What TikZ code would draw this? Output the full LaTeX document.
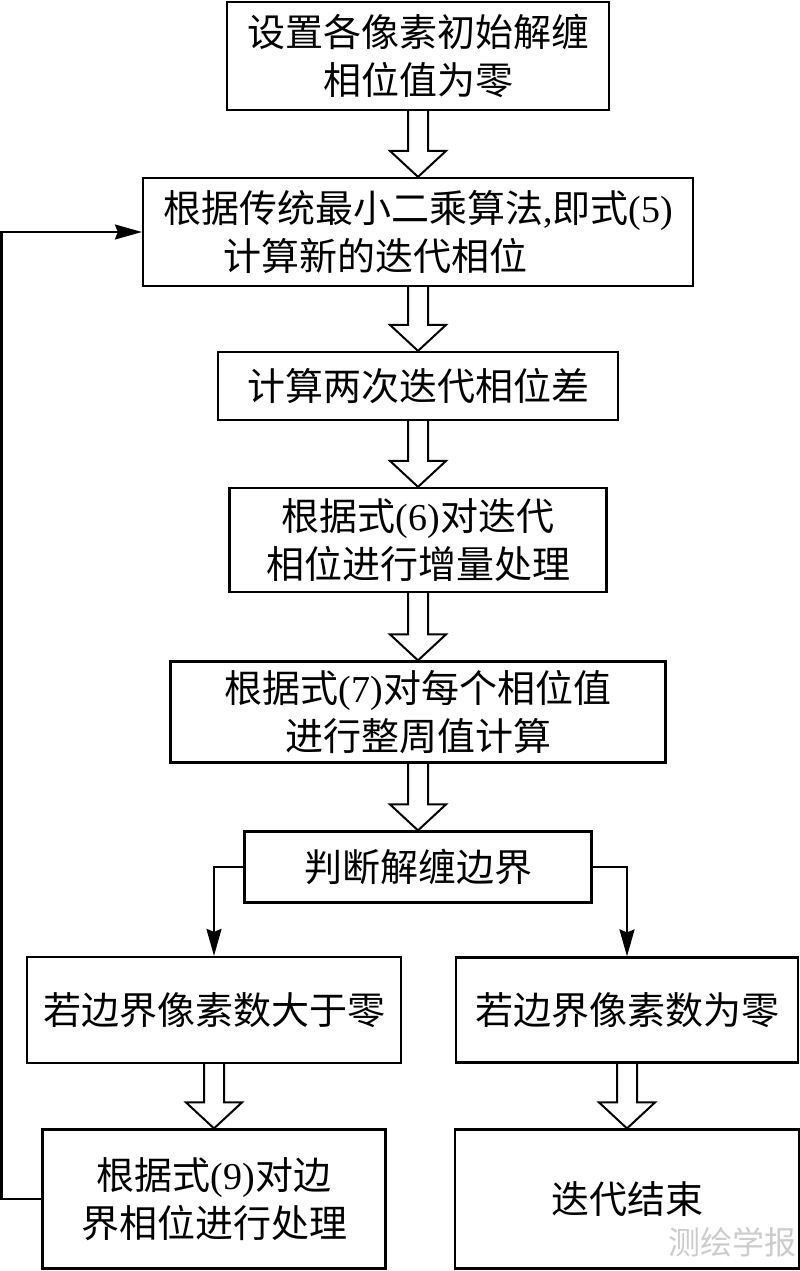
\documentclass[tikz,border=0pt]{standalone}
\usepackage{fontspec}
\setmainfont{Noto Sans CJK SC}
\newfontfamily\lat{Liberation Serif}
\usetikzlibrary{positioning, arrows.meta, calc}

\tikzset{
  stepbox/.style={draw, line width=2.2pt, inner sep=0pt, align=center, font=\fontsize{38}{48}\selectfont},
  hollow/.style={draw, line width=2pt, line join=miter},
  flow/.style={line width=2.2pt, -{Stealth[length=27pt, width=15pt, inset=3pt]}}
}

\begin{document}
\begin{tikzpicture}[x=1pt, y=-1pt]
  \useasboundingbox (0,0) rectangle (800,1271);

  \node[stepbox, minimum width=382pt, minimum height=108pt] (init) at (418,56) {设置各像素初始解缠\\相位值为零};
  \node[stepbox, minimum width=550pt, minimum height=108pt] (lsq) at (418,232) {根据传统最小二乘算法{\lat ,}即式{\lat (5)}\\计算新的迭代相位\hspace*{86pt}};
  \node[stepbox, minimum width=400pt, minimum height=68pt] (diff) at (418,386) {计算两次迭代相位差};
  \node[stepbox, minimum width=377pt, minimum height=104pt] (incr) at (418,540) {根据式{\lat (6)}对迭代\\相位进行增量处理};
  \node[stepbox, minimum width=495pt, minimum height=101pt] (wrap) at (418,712) {根据式{\lat (7)}对每个相位值\\进行整周值计算};
  \node[stepbox, minimum width=347pt, minimum height=71pt] (judge) at (418,867) {判断解缠边界};
  \node[stepbox, minimum width=374pt, minimum height=106pt] (pos) at (214,1010) {若边界像素数大于零};
  \node[stepbox, minimum width=342pt, minimum height=105pt] (zero) at (627,1010) {若边界像素数为零};
  \node[stepbox, minimum width=343pt, minimum height=139pt] (edge) at (214,1199) {根据式{\lat (9)}对边\\界相位进行处理};
  \node[stepbox, minimum width=344pt, minimum height=139pt] (stop) at (627,1199) {迭代结束};

  % hollow arrows
  \foreach \a/\b in {init/lsq, lsq/diff, diff/incr, incr/wrap, wrap/judge, pos/edge, zero/stop}
    \draw[hollow] ($(\a.south)+(-10,0)$) -- ($(\b.north)+(-10,-26)$) -- ($(\b.north)+(-28,-26)$) -- (\b.north)
      -- ($(\b.north)+(28,-26)$) -- ($(\b.north)+(10,-26)$) -- ($(\a.south)+(10,0)$);

  \draw[flow] (judge.west) -| (pos.north);
  \draw[flow] (judge.east) -| (zero.north);
  \draw[flow] (edge.west) -- ++(-40,0) |- (lsq.west);

  \node[text=black!20, font=\fontsize{32}{32}\selectfont] (wmark) at (732,1242) {测绘学报};
\end{tikzpicture}
\end{document}
